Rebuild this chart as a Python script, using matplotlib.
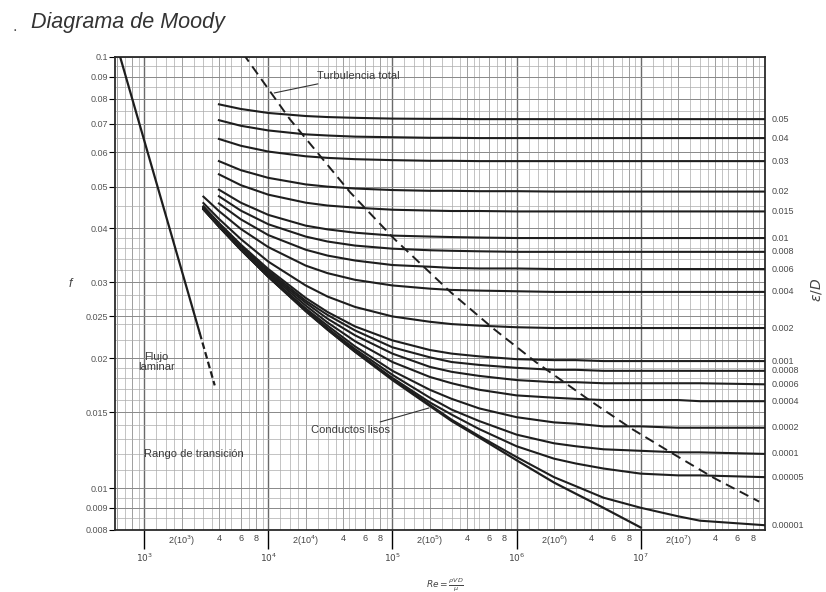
import numpy as np
import matplotlib
matplotlib.use('Agg')
import matplotlib.pyplot as plt
from matplotlib.ticker import NullLocator

plt.rcParams['font.family'] = ['Liberation Sans', 'DejaVu Sans']
nan = np.nan

re_cols = [3e3, 4e3, 6e3, 1e4, 2e4, 3e4, 5e4, 1e5, 2e5, 3e5, 5e5,
           1e6, 2e6, 3e6, 5e6, 1e7, 2e7, 3e7, 1e8]

rough_labels = ['0.05', '0.04', '0.03', '0.02', '0.015', '0.01', '0.008', '0.006',
                '0.004', '0.002', '0.001', '0.0008', '0.0006', '0.0004', '0.0002',
                '0.0001', '0.00005', '0.00001']

f_rough = [
    [nan, .0776, .0757, .0741, .0729, .0725, .0722, .0719, .0718, .0718, .0717,
     .0717, .0717, .0717, .0717, .0717, .0717, .0717, .0717],
    [nan, .0713, .0692, .0675, .0661, .0657, .0653, .0651, .0649, .0649, .0648,
     .0648, .0648, .0648, .0648, .0648, .0648, .0648, .0648],
    [nan, .0645, .0622, .0603, .0588, .0583, .0579, .0576, .0574, .0574, .0573,
     .0573, .0573, .0573, .0573, .0573, .0573, .0573, .0573],
    [nan, .0573, .0546, .0524, .0506, .0500, .0495, .0491, .0489, .0489, .0488,
     .0488, .0487, .0487, .0487, .0487, .0487, .0487, .0487],
    [nan, .0534, .0504, .0479, .0459, .0452, .0447, .0442, .0440, .0439, .0439,
     .0438, .0438, .0438, .0438, .0438, .0438, .0438, .0438],
    [nan, .0492, .0459, .0430, .0406, .0398, .0391, .0385, .0383, .0382, .0381,
     .0380, .0380, .0380, .0380, .0380, .0380, .0380, .0380],
    [nan, .0475, .0440, .0409, .0383, .0373, .0365, .0359, .0356, .0355, .0354,
     .0353, .0353, .0353, .0353, .0353, .0353, .0353, .0353],
    [nan, .0457, .0420, .0386, .0357, .0346, .0337, .0329, .0326, .0324, .0323,
     .0323, .0322, .0322, .0322, .0322, .0322, .0322, .0322],
    [.0474, .0439, .0399, .0362, .0328, .0315, .0304, .0295, .0290, .0288, .0287,
     .0286, .0285, .0285, .0285, .0285, .0285, .0285, .0285],
    [.0458, .0421, .0378, .0335, .0295, .0278, .0263, .0250, .0243, .0240, .0238,
     .0236, .0235, .0235, .0235, .0235, .0235, .0235, .0235],
    [.0450, .0412, .0367, .0322, .0276, .0256, .0237, .0220, .0209, .0205, .0202,
     .0199, .0198, .0198, .0197, .0197, .0197, .0197, .0197],
    [.0449, .0410, .0365, .0319, .0272, .0252, .0232, .0212, .0201, .0196, .0193,
     .0190, .0188, .0188, .0187, .0187, .0187, .0187, .0187],
    [.0447, .0409, .0363, .0316, .0269, .0247, .0226, .0205, .0191, .0186, .0182,
     .0178, .0176, .0176, .0175, .0175, .0175, .0175, .0174],
    [.0446, .0407, .0361, .0314, .0265, .0242, .0219, .0196, .0181, .0175, .0169,
     .0164, .0162, .0161, .0160, .0160, .0160, .0159, .0159],
    [.0445, .0406, .0359, .0311, .0261, .0238, .0213, .0187, .0169, .0161, .0153,
     .0146, .0142, .0141, .0139, .0139, .0138, .0138, .0138],
    [.0444, .0405, .0358, .0310, .0259, .0235, .0210, .0183, .0162, .0152, .0143,
     .0133, .0127, .0125, .0123, .0122, .0121, .0121, .0120],
    [.0444, .0405, .0358, .0309, .0258, .0234, .0208, .0180, .0158, .0148, .0137,
     .0125, .0117, .0114, .0111, .0108, .0107, .0107, .0106],
    [.0443, .0404, .0357, .0309, .0258, .0233, .0207, .0179, .0156, .0144, .0132,
     .0118, .0106, .0101, .0095, .0090, .0086, .0084, .0082],
]
f_smooth = [.0443, .0404, .0357, .0309, .0257, .0233, .0207, .0178, .0155, .0143,
            .0131, .0116, .0103, .0097, .0090, .0081, nan, nan, nan]

lam_re = [640, 2800]
lam_f = [0.100, 0.0229]
lam_dash_re = [2800, 3700]
lam_dash_f = [0.0229, 0.0173]

tt_re = [6270, 14950, 45350, 102700, 296600, 653400, 1.427e6, 3.966e6, 8.534e6,
         1.827e7, 3.895e7, 9.0e7]
tt_f = [0.1017, 0.0716, 0.0486, 0.0379, 0.0284, 0.0234, 0.0196, 0.0159, 0.0137,
        0.0120, 0.01055, 0.0093]

yticks = [0.008, 0.009, 0.01, 0.015, 0.02, 0.025, 0.03, 0.04, 0.05, 0.06, 0.07,
          0.08, 0.09, 0.1]
ylabels = ['0.008', '0.009', '0.01', '0.015', '0.02', '0.025', '0.03', '0.04',
           '0.05', '0.06', '0.07', '0.08', '0.09', '0.1']

ink = '#1e1e1e'
txt = '#3a3a3a'
fig = plt.figure(figsize=(8.26, 5.92), dpi=100)
ax = fig.add_axes([0.139, 0.105, 0.787, 0.799])
ax.set_xscale('log')
ax.set_yscale('log')
ax.set_xlim(580, 1e8)
ax.set_ylim(0.008, 0.1)

# dense chart grid
mults = [1, 1.25, 1.5, 1.75, 2, 2.5, 3, 3.5, 4, 4.5, 5, 6, 7, 8, 9]
for d in [1e2, 1e3, 1e4, 1e5, 1e6, 1e7]:
    for m in mults:
        x = m * d
        if 580 < x < 1e8:
            if m == 1:
                ax.axvline(x, color='#6a6a6a', lw=1.0, zorder=0)
            elif m in (2, 4, 6, 8):
                ax.axvline(x, color='#8f8f8f', lw=0.6, zorder=0)
            else:
                ax.axvline(x, color='#ababab', lw=0.5, zorder=0)
hy = np.concatenate([np.arange(0.0085, 0.01, 0.0005), np.arange(0.01, 0.02, 0.001),
                     np.arange(0.02, 0.04, 0.002), np.arange(0.04, 0.1, 0.005)])
for y in hy:
    ax.axhline(y, color='#ababab', lw=0.5, zorder=0)
for y in yticks:
    ax.axhline(y, color='#8a8a8a', lw=0.7, zorder=0)

for fr in f_rough:
    ax.plot(re_cols, fr, color=ink, lw=1.5, zorder=3)
ax.plot(re_cols, f_smooth, color=ink, lw=1.6, zorder=3)
ax.plot(lam_re, lam_f, color=ink, lw=1.6, zorder=3)
ax.plot(lam_dash_re, lam_dash_f, color=ink, lw=1.6, ls=(0, (3, 1.5)), zorder=3)
ax.plot(tt_re, tt_f, color=ink, lw=1.4, ls=(0, (5, 3)), zorder=3)

# right-hand relative roughness labels
tr = ax.get_yaxis_transform()
for lab, fr in zip(rough_labels, f_rough):
    ax.text(1.01, fr[-1], lab, transform=tr, fontsize=6.5, color='#4a4a4a',
            va='center', ha='left')

ax.set_yticks(yticks)
ax.set_yticklabels(ylabels)
ax.yaxis.set_minor_locator(NullLocator())
ax.tick_params(axis='y', which='major', length=4, width=0.8, labelsize=6.5,
               labelcolor='#555555', pad=1)

ax.set_xticks([1e3, 1e4, 1e5, 1e6, 1e7])
ax.set_xticklabels(['$10^3$', '$10^4$', '$10^5$', '$10^6$', '$10^7$'])
minor_pos = []
minor_lab = []
for k, d in enumerate([1e3, 1e4, 1e5, 1e6, 1e7]):
    minor_pos += [2 * d, 4 * d, 6 * d, 8 * d]
    minor_lab += ['2(10$^%d$)' % (k + 3), '4', '6', '8']
ax.set_xticks(minor_pos, minor_lab, minor=True)
ax.tick_params(axis='x', which='major', length=14, width=1.0, pad=2, labelsize=6.5,
               labelcolor='#444444')
ax.tick_params(axis='x', which='minor', length=0, pad=3, labelsize=6.5,
               labelcolor='#444444')

for s in ax.spines.values():
    s.set_linewidth(1.3)
    s.set_color('#2a2a2a')

ax.annotate('Turbulencia total', xy=(1.06e4, 0.0822), xytext=(2.45e4, 0.0905),
            fontsize=8, color=txt, va='center',
            arrowprops=dict(arrowstyle='-', color='#333333', lw=0.8))
ax.annotate('Conductos lisos', xy=(2.07e5, 0.0154), xytext=(2.2e4, 0.0136),
            fontsize=8, color=txt, va='center',
            arrowprops=dict(arrowstyle='-', color='#333333', lw=0.8))
ax.text(1.25e3, 0.0196, 'Flujo\nlaminar', fontsize=8, color=txt,
        ha='center', va='center', linespacing=1.1)
ax.text(1.0e3, 0.0120, 'Rango de transición', fontsize=8, color=txt,
        ha='left', va='center')

ax.text(-0.068, 0.52, 'f', transform=ax.transAxes, fontsize=9, style='italic',
        color='#444444', ha='center', va='center')
fig.text(0.997, 0.51, r'$\varepsilon/D$', fontsize=10, rotation=90, color='#444444',
         ha='right', va='center')
fig.text(445 / 826, 1 - 585 / 592, r'$Re = \frac{\rho VD}{\mu}$', fontsize=6.5,
         color='#444444', ha='center', va='center')

fig.text(0.015, 0.955, '.', fontsize=12, color='#555555', ha='left', va='center')
fig.text(0.038, 0.962, 'Diagrama de Moody', fontsize=15.5, style='italic',
         color='#333333', ha='left', va='center')

fig.savefig('out.png', dpi=100)
